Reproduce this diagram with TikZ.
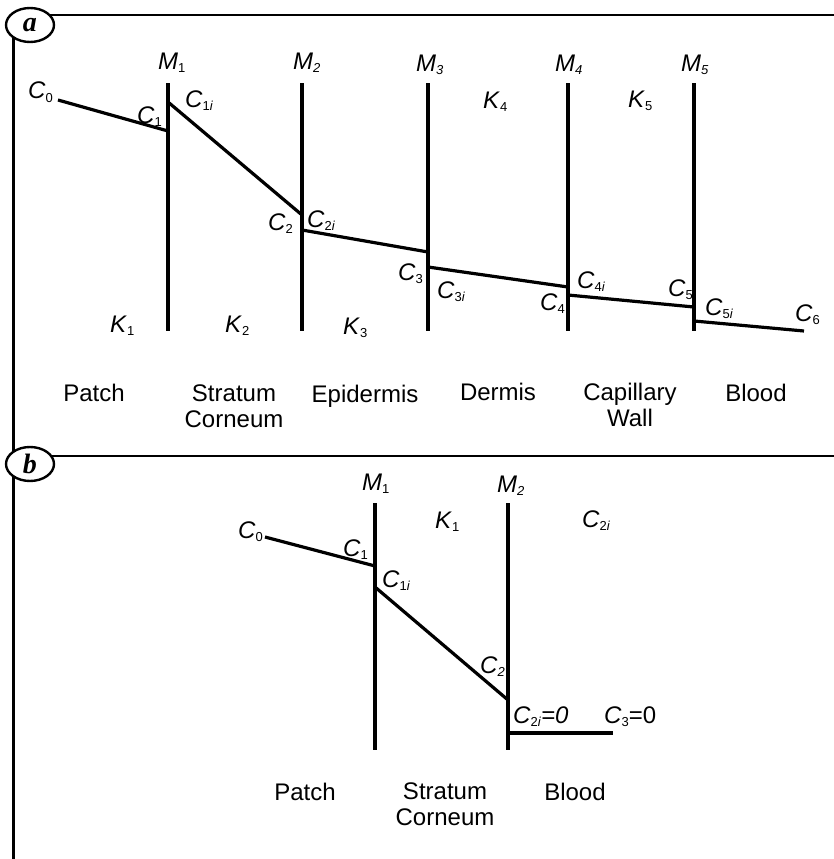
\documentclass[tikz,border=0pt]{standalone}
\usepackage{fontspec}
\setmainfont{Liberation Sans}
\newfontfamily\circfont{Liberation Serif}
\usetikzlibrary{shapes.geometric}
\newcommand{\Lab}[2]{\textit{#1}\raisebox{-3pt}{\fontsize{13}{13}\selectfont #2}}
\newcommand{\ii}{\textit{i}}
\begin{document}
\begin{tikzpicture}[x=1pt,y=-1pt,
  ln/.style={line width=3.2pt},
  frm/.style={line width=2.8pt},
  lbl/.style={inner sep=0pt, anchor=base west, font=\fontsize{24}{26}\selectfont},
  reg/.style={inner sep=0pt, anchor=base, align=center, font=\fontsize{24}{26}\selectfont},
  circ/.style={draw, ellipse, line width=2.4pt, minimum width=48pt, minimum height=34pt,
    inner sep=0pt, outer sep=0pt, font=\circfont\bfseries\itshape\fontsize{28}{28}\selectfont}]
\useasboundingbox (0,0) rectangle (834,859);

% ---------- frames ----------
\node[circ] (fa) at (30,25) {a};
\node[circ] (fb) at (30,464) {b};
\coordinate (rA) at (834,15);
\coordinate (rB) at (834,456);
\coordinate (bot) at (15,859);
\draw[frm] (fa.27) -- (fa.27 -| rA);
\draw[frm] (fb.21) -- (fb.21 -| rB);
\draw[frm] (fa.218) -- (fb.142);
\draw[frm] (fb.218) -- (fb.218 |- bot);

% ---------- panel a: membranes ----------
\foreach \n/\x in {1/168,2/302,3/428,4/568,5/694}{
  \coordinate (am\n t) at (\x,83);
  \coordinate (am\n b) at (\x,331);
  \draw[ln] (am\n t) -- (am\n b);
}
% concentration profile a
\coordinate (a0) at (58,100);
\coordinate (a1) at (168,131);
\coordinate (a1i) at (168,102);
\coordinate (a2) at (302,215);
\coordinate (a2i) at (302,230);
\coordinate (a3) at (428,252);
\coordinate (a3i) at (428,267);
\coordinate (a4) at (568,287);
\coordinate (a4i) at (568,295);
\coordinate (a5) at (694,307);
\coordinate (a5i) at (694,321);
\coordinate (a6) at (804,331);
\draw[ln] (a0) -- (a1);
\draw[ln] (a1i) -- (a2);
\draw[ln] (a2i) -- (a3);
\draw[ln] (a3i) -- (a4);
\draw[ln] (a4i) -- (a5);
\draw[ln] (a5i) -- (a6);

% labels a
\node[lbl] (laM1) at (158,70) {\Lab{M}{1}};
\node[lbl] (laM2) at (293,70) {\Lab{M}{\textit{2}}};
\node[lbl] (laM3) at (416,71) {\Lab{M}{\textit{3}}};
\node[lbl] (laM4) at (555,71) {\Lab{M}{\textit{4}}};
\node[lbl] (laM5) at (681,71) {\Lab{M}{\textit{5}}};
\node[lbl] (laK4) at (483,108) {\Lab{K}{4}};
\node[lbl] (laK5) at (628,107) {\Lab{K}{5}};
\node[lbl] (laK1) at (110,332) {\Lab{K}{1}};
\node[lbl] (laK2) at (225,332) {\Lab{K}{2}};
\node[lbl] (laK3) at (343,334) {\Lab{K}{3}};
\node[lbl] (laC0) at (28,99) {\Lab{C}{0}};
\node[lbl] (laC1) at (137,123) {\Lab{C}{1}};
\node[lbl] (laC1i) at (185,107) {\Lab{C}{1\ii}};
\node[lbl] (laC2) at (268,230) {\Lab{C}{2}};
\node[lbl] (laC2i) at (307,227) {\Lab{C}{2\ii}};
\node[lbl] (laC3) at (398,280) {\Lab{C}{3}};
\node[lbl] (laC3i) at (437,298) {\Lab{C}{3\ii}};
\node[lbl] (laC4) at (540,310) {\Lab{C}{4}};
\node[lbl] (laC4i) at (577,288) {\Lab{C}{4\ii}};
\node[lbl] (laC5) at (668,296) {\Lab{C}{5}};
\node[lbl] (laC5i) at (705,315) {\Lab{C}{5\ii}};
\node[lbl] (laC6) at (795,321) {\Lab{C}{6}};

\node[reg] (raP) at (94,401) {Patch};
\node[reg] (raS) at (234,427) {Stratum\\Corneum};
\node[reg] (raE) at (365,402) {Epidermis};
\node[reg] (raD) at (498,400) {Dermis};
\node[reg] (raC) at (630,426) {Capillary\\Wall};
\node[reg] (raB) at (756,401) {Blood};

% ---------- panel b ----------
\coordinate (bm1t) at (375,503);
\coordinate (bm1b) at (375,750);
\coordinate (bm2t) at (508,503);
\coordinate (bm2b) at (508,750);
\draw[ln] (bm1t) -- (bm1b);
\draw[ln] (bm2t) -- (bm2b);
\coordinate (b0) at (265,537);
\coordinate (b1) at (375,566);
\coordinate (b1i) at (375,587);
\coordinate (b2) at (508,700);
\coordinate (b2i) at (508,733);
\coordinate (b3) at (613,733);
\draw[ln] (b0) -- (b1);
\draw[ln] (b1i) -- (b2);
\draw[ln] (b2i) -- (b3);

\node[lbl] (lbM1) at (362,490) {\Lab{M}{1}};
\node[lbl] (lbM2) at (497,492) {\Lab{M}{\textit{2}}};
\node[lbl] (lbK1) at (435,528) {\Lab{K}{1}};
\node[lbl] (lbC2it) at (582,527) {\Lab{C}{2\ii}};
\node[lbl] (lbC0) at (238,538) {\Lab{C}{0}};
\node[lbl] (lbC1) at (343,556) {\Lab{C}{1}};
\node[lbl] (lbC1i) at (382,587) {\Lab{C}{1\ii}};
\node[lbl] (lbC2) at (480,673) {\Lab{C}{\textit{2}}};
\node[lbl] (lbC2i) at (513,723) {\Lab{C}{2\ii}\textit{=0}};
\node[lbl] (lbC3) at (604,723) {\Lab{C}{3}=0};

\node[reg] (rbP) at (305,800) {Patch};
\node[reg] (rbS) at (445,825) {Stratum\\Corneum};
\node[reg] (rbB) at (575,800) {Blood};
\end{tikzpicture}
\end{document}
